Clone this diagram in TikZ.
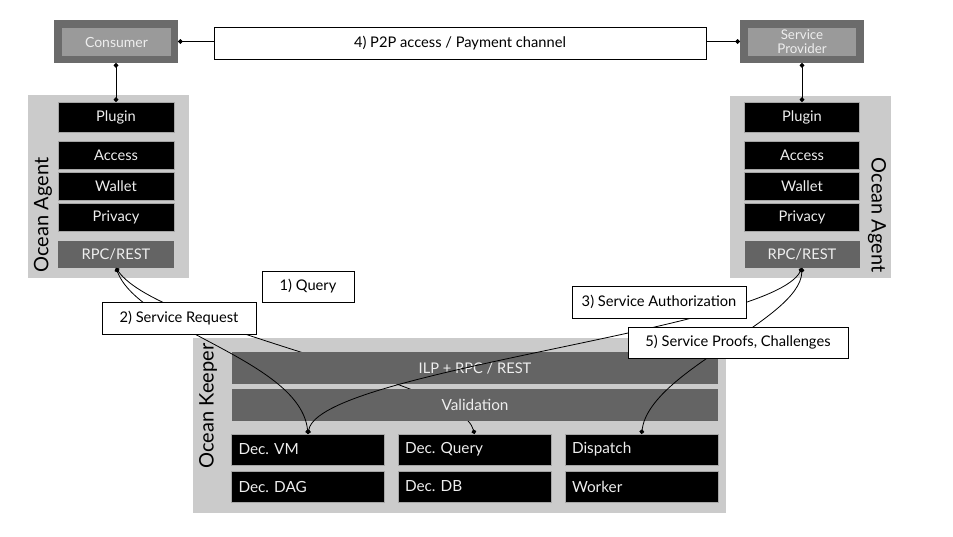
\documentclass[tikz,border=0pt]{standalone}
\usepackage{fontspec}
\setmainfont{Lato}
\frenchspacing
\usetikzlibrary{arrows.meta}
\definecolor{panelgrey}{HTML}{CBCBCB}
\definecolor{bargrey}{HTML}{646464}
\definecolor{extgrey}{HTML}{6B6B6B}
\definecolor{intgrey}{HTML}{9A9A9A}
\definecolor{lighttext}{HTML}{EEEEEE}

\begin{document}
\begin{tikzpicture}[x=.75pt,y=-.75pt]
    \tikzstyle{wd} = [minimum width=#1*.75pt]
    \tikzstyle{ht} = [minimum height=#1*.75pt]
    \tikzstyle{box} = [inner sep=0pt,outer sep=0pt,font=\fontsize{11}{13}\selectfont]
    \tikzstyle{panel} = [box,fill=panelgrey]
    \tikzstyle{ext} = [box,fill=extgrey]
    \tikzstyle{int} = [box,fill=intgrey,text=lighttext]
    \tikzstyle{blk} = [box,fill=black,draw=gray!70,line width=.4pt,text=lighttext]
    \tikzstyle{bar} = [box,fill=bargrey,text=lighttext]
    \tikzstyle{dec} = [blk,ht=31,text width=139*.75pt,align=left,inner xsep=7*.75pt,
                       font=\fontsize{11.5}{13}\selectfont]
    \tikzstyle{big} = [font=\fontsize{15}{18}\selectfont]
    \tikzstyle{lbl} = [box,fill=white,draw=black,line width=.75pt]
    \tikzstyle{conn} = [draw,line width=.6pt,arrows={Circle[length=3.5pt]-Circle[length=3.5pt]}]

    \useasboundingbox (0,0) rectangle (953,536);

    % Consumer and service provider
    \node[ext,wd=124,ht=43] (consumer) at (116,41.5) {};
    \node[int,wd=109,ht=28,font=\fontsize{10.5}{12}\selectfont]
        (consumerin) at (116.5,42) {Consumer};
    \node[ext,wd=124,ht=43] (provider) at (802,41.5) {};
    \node[int,wd=108,ht=28,align=center,font=\fontsize{10}{10.5}\selectfont]
        (providerin) at (802,42) {Service\\Provider};

    % Left agent
    \node[panel,wd=161,ht=183] (agentL) at (108.5,186.5) {};
    \node[blk,wd=116,ht=30] (pluginL) at (116,117) {Plugin};
    \node[blk,wd=116,ht=28] (accessL) at (116,155) {Access};
    \node[blk,wd=116,ht=28] (walletL) at (116,186) {Wallet};
    \node[blk,wd=116,ht=28] (privacyL) at (116,217) {Privacy};
    \node[bar,wd=116,ht=27] (rpcL) at (116,254.5) {RPC/REST};
    \node[big,rotate=90] (agentLtxt) at (43,215) {Ocean Agent};

    % Right agent
    \node[panel,wd=161,ht=182] (agentR) at (810.5,187) {};
    \node[blk,wd=115,ht=30] (pluginR) at (802,117) {Plugin};
    \node[blk,wd=115,ht=28] (accessR) at (802,155) {Access};
    \node[blk,wd=115,ht=28] (walletR) at (802,186) {Wallet};
    \node[blk,wd=115,ht=28] (privacyR) at (802,217) {Privacy};
    \node[bar,wd=115,ht=27] (rpcR) at (802,254.5) {RPC/REST};
    \node[big,rotate=-90] (agentRtxt) at (877,215) {Ocean Agent};

    % Keeper
    \node[panel,wd=533,ht=175] (keeper) at (459.5,425.5) {};
    \node[big,rotate=90] (keepertxt) at (208,406) {Ocean Keeper};
    \node[dec] (decvm) at (308,449.5) {Dec. VM};
    \node[dec] (decquery) at (474.5,449.5) {Dec. Query};
    \node[dec] (dispatch) at (641.5,449.5) {Dispatch};
    \node[dec] (decdag) at (308,486.5) {Dec. DAG};
    \node[dec] (decdb) at (474.5,486.5) {Dec. DB};
    \node[dec] (worker) at (641.5,486.5) {Worker};

    \draw[conn] (rpcL.south) .. controls (160,330) and (460,380) .. (decquery.north);

    \node[bar,wd=486,ht=32] (ilp) at (475,368) {ILP + RPC / REST};
    \node[bar,wd=486,ht=32,font=\fontsize{11.5}{13}\selectfont] (validation) at (475,405) {Validation};

    % Connectors
    \draw[conn] (rpcL.south) .. controls (140,330) and (300,360) .. (decvm.north);
    \draw[conn] (rpcR.south) .. controls (770,330) and (320,370) .. (decvm.north);
    \draw[conn] (rpcR.south) .. controls (800,320) and (650,370) .. (dispatch.north);
    \draw[conn] (consumer.east) -- (provider.west);
    \draw[conn] (consumer.south) -- (pluginL.north);
    \draw[conn] (provider.south) -- (pluginR.north);

    % Labels
    \node[lbl,wd=492,ht=32] (p2p) at (460,43) {4) P2P access / Payment channel};
    \node[lbl,wd=92,ht=31] (query) at (308,286.5) {1) Query};
    \node[lbl,wd=154,ht=32] (request) at (179,318) {2) Service Request};
    \node[lbl,wd=174,ht=32] (auth) at (659,302) {3) Service Authorization};
    \node[lbl,wd=220,ht=31] (proofs) at (738,342.5) {5) Service Proofs, Challenges};
\end{tikzpicture}
\end{document}
